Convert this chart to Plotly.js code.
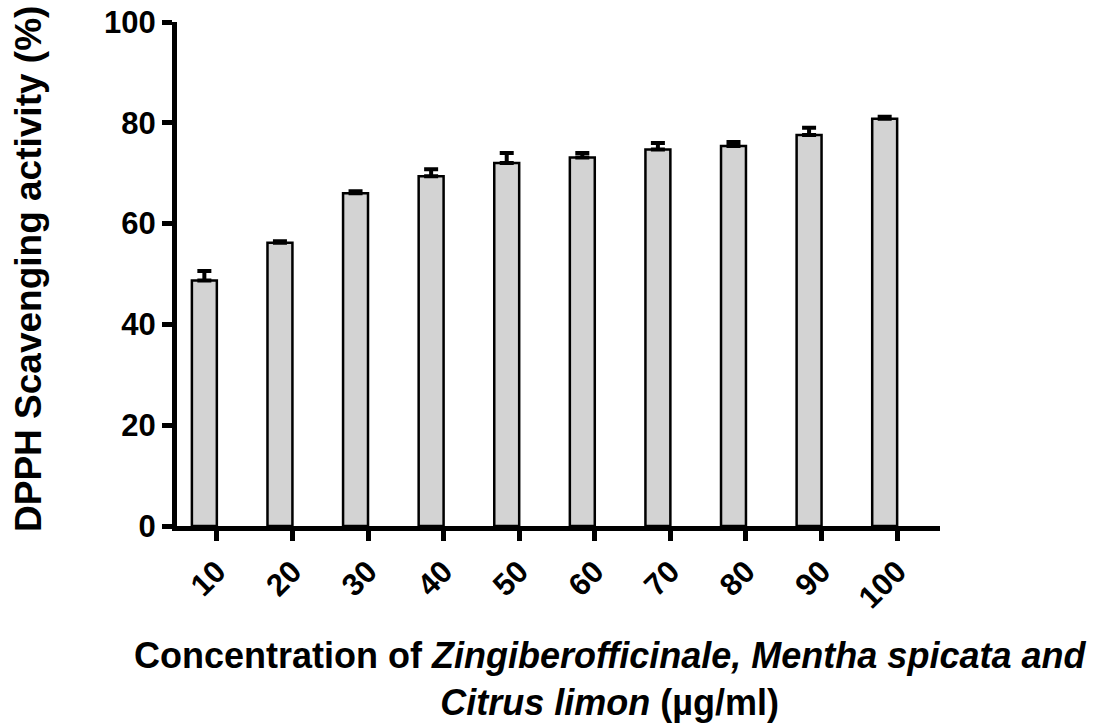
<!DOCTYPE html>
<html>
<head>
<meta charset="utf-8">
<script src="https://cdn.plot.ly/plotly-3.0.1.min.js"></script>
<style>html,body{margin:0;padding:0;background:#fff;}#chart{width:1100px;height:727px;}</style>
</head>
<body>
<div id="chart"></div>
<script>
// Data
const concentrations = ["10", "20", "30", "40", "50", "60", "70", "80", "90", "100"];
const scavengingMean = [48.7, 56.2, 66.0, 69.4, 72.0, 73.1, 74.7, 75.4, 77.6, 80.8];
const scavengingErr  = [1.9, 0.3, 0.4, 1.4, 2.0, 0.9, 1.3, 0.8, 1.4, 0.4];
const yTickValues = [0, 20, 40, 60, 80, 100];

const FONT = "Liberation Sans, Arial, Helvetica, sans-serif";

const trace = {
  type: "bar",
  x: concentrations,
  y: scavengingMean,
  width: 0.33,
  offset: -0.33,
  marker: { color: "#d3d3d3", line: { color: "#000", width: 2.5 } },
  error_y: {
    type: "data",
    symmetric: false,
    array: scavengingErr,
    arrayminus: scavengingErr.map(() => 0),
    color: "#000",
    thickness: 4,
    width: 7
  },
  hoverinfo: "x+y"
};

const layout = {
  width: 1100,
  height: 727,
  margin: { l: 177, r: 160, t: 22, b: 201 },
  paper_bgcolor: "#fff",
  plot_bgcolor: "#fff",
  showlegend: false,
  font: { family: FONT, color: "#000" },
  xaxis: {
    type: "category",
    range: [-0.527, 9.567],
    showgrid: false,
    zeroline: false,
    showline: true,
    linecolor: "#000",
    linewidth: 5,
    ticks: "outside",
    ticklen: 10,
    tickwidth: 5,
    tickcolor: "#000",
    tickangle: -45,
    tickfont: { family: FONT, size: 31, weight: "bold", color: "#000" }
  },
  yaxis: {
    range: [0, 100],
    tickvals: yTickValues,
    ticktext: yTickValues.map(String),
    showgrid: false,
    zeroline: false,
    showline: true,
    linecolor: "#000",
    linewidth: 5,
    ticks: "outside",
    ticklen: 10,
    tickwidth: 5,
    tickcolor: "#000",
    tickfont: { family: FONT, size: 31, weight: "bold", color: "#000" }
  },
  annotations: [
    {
      text: "<b>DPPH Scavenging activity (%)</b>",
      textangle: -90,
      xref: "paper", yref: "paper",
      x: (28 - 177) / 763, y: (727 - 201 - 269 ) / 504,
      xanchor: "center", yanchor: "middle",
      showarrow: false,
      font: { family: FONT, size: 37, color: "#000" }
    },
    {
      text: "<b>Concentration of <i>Zingiberofficinale, Mentha spicata and</i></b><br><b><i>Citrus limon</i> (µg/ml)</b>",
      xref: "paper", yref: "paper",
      x: (610 - 177) / 763, y: -(679 - 526) / 504,
      xanchor: "center", yanchor: "middle",
      align: "center",
      showarrow: false,
      font: { family: FONT, size: 36, color: "#000" }
    }
  ]
};

Plotly.newPlot("chart", [trace], layout, { displayModeBar: false, staticPlot: true });
</script>
</body>
</html>
